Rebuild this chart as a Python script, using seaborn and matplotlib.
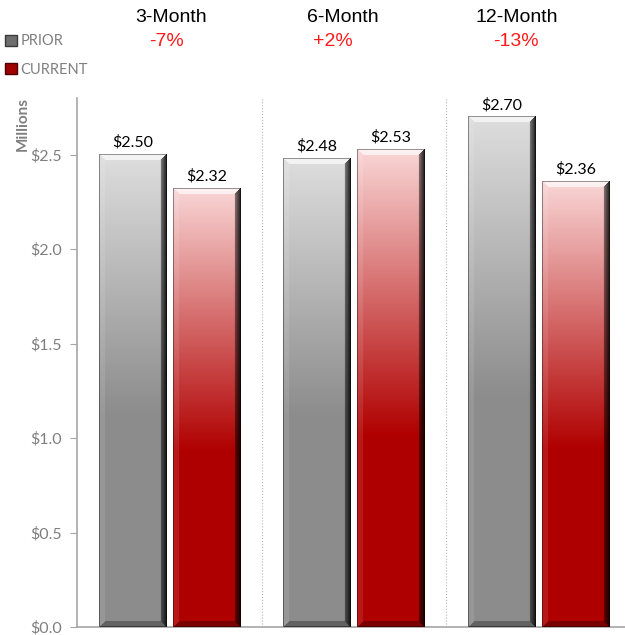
import numpy as np
import pandas as pd
import seaborn as sns
import matplotlib.pyplot as plt
from matplotlib.patches import Patch
from matplotlib.ticker import FuncFormatter

periods = ["3-Month", "6-Month", "12-Month"]
prior = [2.50, 2.48, 2.70]
current = [2.32, 2.53, 2.36]
series = ["PRIOR", "CURRENT"]

df = pd.DataFrame({
    "period": periods * 2,
    "series": ["PRIOR"] * 3 + ["CURRENT"] * 3,
    "value": prior + current,
})

sns.set_style("white")
plt.rcParams["font.family"] = ["Lato", "DejaVu Sans"]

fig = plt.figure(figsize=(6.25, 6.35), dpi=100)
ax = fig.add_axes([77 / 625, 8 / 635, 554 / 625, 529 / 635])

sns.barplot(data=df, x="period", y="value", hue="series", order=periods,
            hue_order=series, palette=["#8c8c8c", "#b00000"], width=0.8,
            gap=0.09, legend=False, edgecolor="none", ax=ax)

ax.set_xlim(-0.5, 2.5)
ax.set_ylim(0, 2.8)

# gradient + bevel look for each bar
grad = {"PRIOR": (np.array([0.87, 0.87, 0.87]), np.array([0.55, 0.55, 0.55]), 0.55),
        "CURRENT": (np.array([0.98, 0.84, 0.84]), np.array([0.69, 0.0, 0.0]), 0.6)}


def bevel_img(w, h, top, bot, frac, b=6):
    ys = np.arange(h) / max(h - 1, 1)
    t = np.clip(ys / frac, 0, 1)
    base = top[None, :] * (1 - t[:, None]) + bot[None, :] * t[:, None]
    img = np.repeat(base[:, None, :], w, axis=1)
    X, Y = np.meshgrid(np.arange(w), np.arange(h))
    d = np.stack([X, w - 1 - X, Y, h - 1 - Y])  # left, right, top, bottom
    k = d.argmin(axis=0)
    m = d.min(axis=0)
    edge = m < b
    s = (1 - m / b)[..., None]
    left = edge & (k == 0)
    right = edge & (k == 1)
    topm = edge & (k == 2)
    botm = edge & (k == 3)
    img[topm] = img[topm] + (1 - img[topm]) * 0.65
    img[left] = img[left] + (1 - img[left]) * 0.1
    img[right] = img[right] * (0.6 - 0.45 * s[right])
    img[botm] = img[botm] * 0.7
    img[m == 0] = img[m == 0] * 0.6
    return np.clip(img, 0, 1)


fig.canvas.draw()
for name, cont in zip(series, ax.containers):
    top, bot, frac = grad[name]
    for p in cont:
        x0, w, h = p.get_x(), p.get_width(), p.get_height()
        (px0, py0), (px1, py1) = ax.transData.transform([(x0, 0), (x0 + w, h)])
        wpx, hpx = int(round(px1 - px0)), int(round(py1 - py0))
        img = bevel_img(wpx, hpx, top, bot, frac)
        ax.imshow(img, extent=[x0, x0 + w, 0, h], aspect="auto", zorder=3,
                  interpolation="bilinear")
        p.set_visible(False)
        ax.text(x0 + w / 2, h + 0.025, f"${h:.2f}", ha="center", va="bottom",
                fontsize=11.5, color="black", zorder=4)

ax.set_xlim(-0.5, 2.5)
ax.set_ylim(0, 2.8)

for xs in [0.5, 1.5]:
    ax.axvline(xs, ls=":", color="#b5b5b5", lw=0.8, zorder=1)

ax.set_yticks(np.arange(0, 2.51, 0.5))
ax.yaxis.set_major_formatter(FuncFormatter(lambda v, _: f"${v:.1f}"))
ax.tick_params(axis="y", left=True, length=5, color="#a6a6a6",
               labelcolor="#7f7f7f", labelsize=11.5, pad=6)
ax.set_xticks([])
ax.set_xlabel("")
ax.set_ylabel("Millions", fontsize=11, fontweight="bold", color="#7f7f7f")
ax.yaxis.set_label_coords(-0.085, 0.951)
for sp in ["top", "right"]:
    ax.spines[sp].set_visible(False)
for sp in ["left", "bottom"]:
    ax.spines[sp].set_color("#a6a6a6")
    ax.spines[sp].set_linewidth(1.2)

# headers with percent change
head_x = [0.01, 0.937, 1.879]
pct_x = [-0.016, 0.888, 1.879]
hfont = ["Liberation Sans", "DejaVu Sans"]
for i, per in enumerate(periods):
    pct = round((current[i] - prior[i]) / prior[i] * 100)
    ax.text(head_x[i], (635 - 17 - 8) / 529, per,
            transform=ax.get_xaxis_transform(), ha="center", va="center",
            fontsize=14, family=hfont, color="black")
    ax.text(pct_x[i], (635 - 41 - 8) / 529, f"{pct:+d}%",
            transform=ax.get_xaxis_transform(), ha="center", va="center",
            fontsize=14, family=hfont, color="#ff1a1a")

handles = [Patch(facecolor="#6e6e6e", edgecolor="#3a3a3a", label="PRIOR"),
           Patch(facecolor="#a00000", edgecolor="#500000", label="CURRENT")]
fig.legend(handles=handles, loc="upper left", bbox_to_anchor=(-0.008, 0.962),
           frameon=False, fontsize=10.5, labelcolor="#7f7f7f", handlelength=0.8,
           handleheight=0.8, handletextpad=0.25, labelspacing=1.0,
           borderpad=0.2)

fig.savefig("out.png", dpi=100)
